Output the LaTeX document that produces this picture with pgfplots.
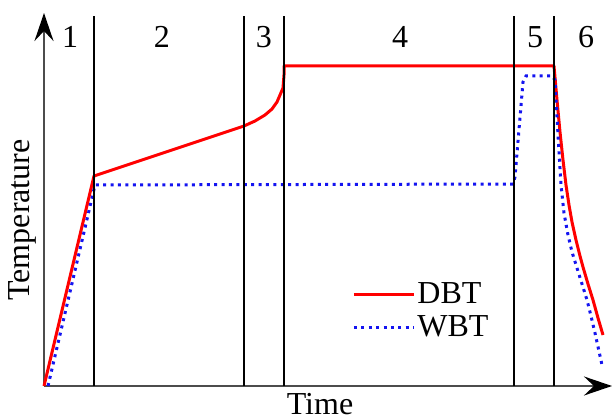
\documentclass[border=0pt]{standalone}
\usepackage{fontspec}
\setmainfont{Liberation Serif}
\usepackage{pgfplots}
\pgfplotsset{compat=1.18}
\usetikzlibrary{arrows.meta}
\definecolor{dbt}{RGB}{255,0,0}
\definecolor{wbt}{RGB}{20,20,240}
\begin{document}
\begin{tikzpicture}
\useasboundingbox (-22pt,-16pt) rectangle (284pt,193pt);
\begin{axis}[
  x=0.5pt, y=0.5pt, disabledatascaling,
  anchor=origin, at={(0pt,0pt)},
  xmin=44, xmax=612, ymin=0, ymax=373,
  axis lines=left,
  axis line style={line width=1.2pt, black!70, -{Stealth[length=14pt,width=9.5pt,inset=5pt,black]}},
  xtick=\empty, ytick=\empty,
  clip=false,
  font=\fontsize{16}{16}\selectfont,
  legend style={at={(axis cs:352,75)}, anchor=west, draw=none, fill=none,
    font=\fontsize{16}{14}\selectfont, row sep=2.5pt, inner sep=0pt, nodes={inner sep=1pt}},
  legend cell align=left,
  legend image code/.code={\draw[#1] (0pt,0pt) -- (30pt,0pt);},
]
\addplot[dbt, line width=1.5pt, line join=round] coordinates {
 (44,0) (94,210) (244,260) (255,265) (265,271) (272,277) (277,284) (280,291) (283,298) (284,311) (284,320)
 (554,320) (557,286) (560,254) (563,226) (566,201) (569,181) (572,164) (576,146) (580,130) (583,119)
 (588,102) (593,86) (598,68) (603,51)};
\addlegendentry{DBT}
\addplot[wbt, line width=1.5pt, dash pattern=on 1.5pt off 2.2pt] coordinates {
 (48,0) (95,201) (513,202) (515,209) (523,304) (526,310) (552,310) (555,306) (558,251) (561,201)
 (564,173) (568,151) (572,134) (577,118) (582,102) (587,86) (591,70) (595,53) (602,21)};
\addlegendentry{WBT}
\foreach \xv in {94,244,284,514,554} {
  \edef\tmp{\noexpand\addplot[black, line width=0.9pt, forget plot] coordinates {(\xv,0) (\xv,370)};}
  \tmp
}
\node at (axis cs:70,349) {1};
\node at (axis cs:162,349) {2};
\node at (axis cs:264,349) {3};
\node at (axis cs:400,349) {4};
\node at (axis cs:535,349) {5};
\node at (axis cs:586,349) {6};
\node[rotate=90] at (axis cs:22,166) {Temperature};
\node[anchor=base, inner sep=0pt] at (axis cs:320,-28) {Time};
\end{axis}
\end{tikzpicture}
\end{document}
